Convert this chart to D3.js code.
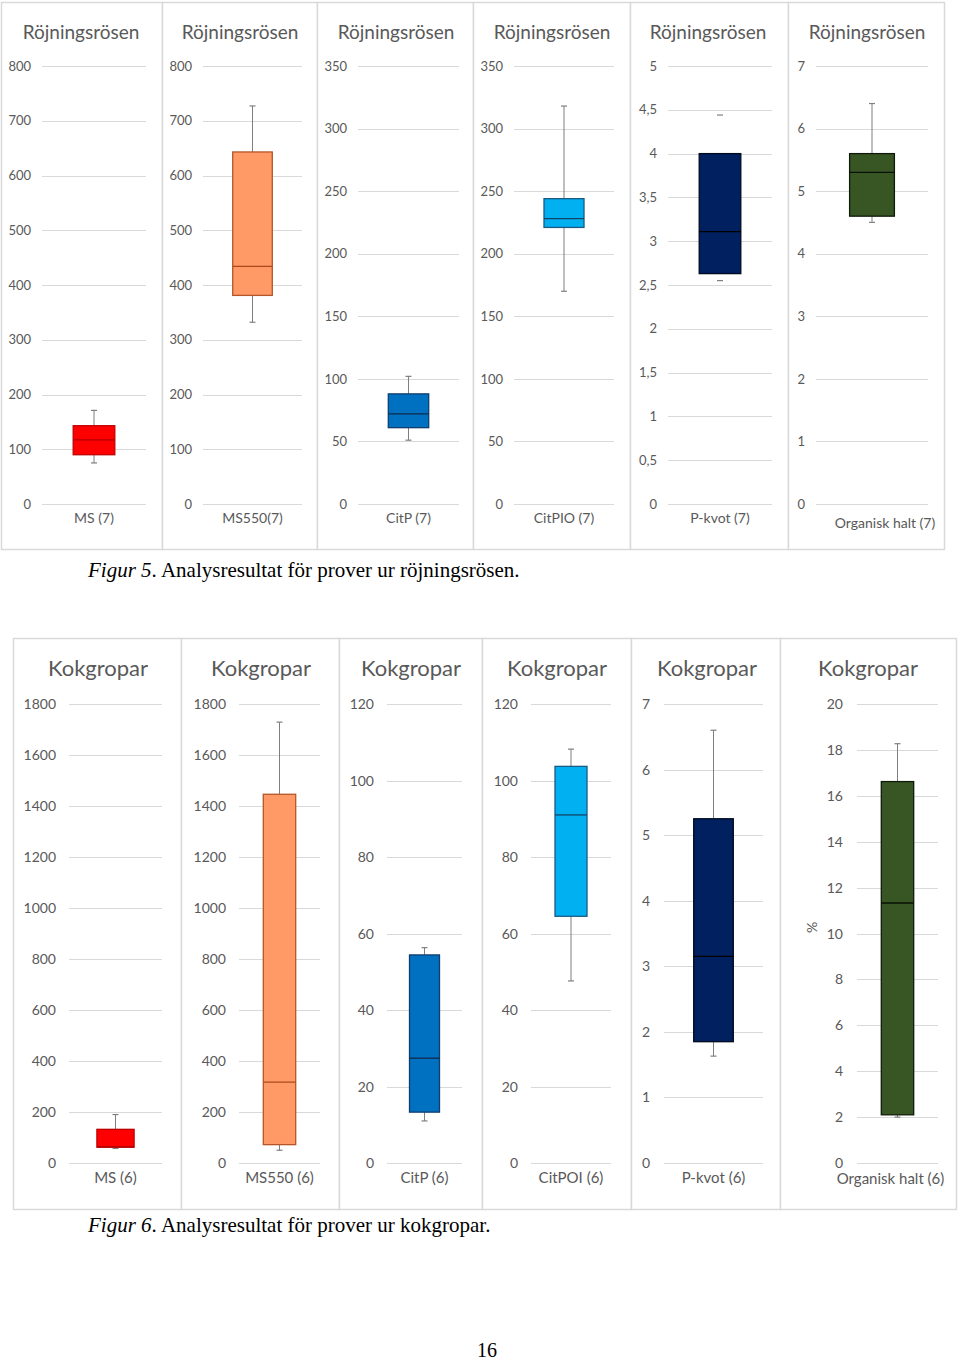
<!DOCTYPE html>
<html>
<head>
<meta charset="utf-8">
<script src="https://cdn.jsdelivr.net/npm/d3@7"></script>
<style>
  html, body { margin: 0; padding: 0; background: #fff; }
  svg { display: block; }
</style>
</head>
<body>
<svg id="chart" width="960" height="1362"></svg>
<script>
// ---------- DATA ----------
// Figur 5 – Röjningsrösen
const fig5Title = "Röjningsrösen";
const fig5Categories = ["MS (7)", "MS550(7)", "CitP (7)", "CitPIO (7)", "P-kvot (7)", "Organisk halt (7)"];
const fig5Min    = [75, 332, 51, 170, 2.55, 4.5];
const fig5Q1     = [90, 381, 61, 221, 2.63, 4.6];
const fig5Median = [117, 434, 72, 228, 3.11, 5.3];
const fig5Q3     = [143, 643, 88, 244, 4.0, 5.6];
const fig5Max    = [171, 727, 102, 318, 4.44, 6.4];
const fig5AxisMax  = [800, 800, 350, 350, 5, 7];
const fig5TickStep = [100, 100, 50, 50, 0.5, 1];
const fig5Caption = ["Figur 5", ". Analysresultat för prover ur röjningsrösen."];

// Figur 6 – Kokgropar
const fig6Title = "Kokgropar";
const fig6Categories = ["MS (6)", "MS550 (6)", "CitP (6)", "CitPOI (6)", "P-kvot (6)", "Organisk halt (6)"];
const fig6Min    = [57, 50, 11, 47.6, 1.63, 2.0];
const fig6Q1     = [62, 72, 13.3, 64.5, 1.85, 2.1];
const fig6Median = [63, 317, 27.4, 91, 3.15, 11.33];
const fig6Q3     = [132, 1446, 54.4, 103.7, 5.25, 16.62];
const fig6Max    = [190, 1729, 56.3, 108.2, 6.6, 18.27];
const fig6AxisMax  = [1800, 1800, 120, 120, 7, 20];
const fig6TickStep = [200, 200, 20, 20, 1, 2];
const fig6YTitle = ["", "", "", "", "", "%"];
const fig6Caption = ["Figur 6", ". Analysresultat för prover ur kokgropar."];

const pageNumber = "16";

// ---------- STYLE / LAYOUT ----------
const fills   = ["#ff0000", "#ff9966", "#0070c0", "#00b0f0", "#002060", "#375623"];
const strokes = ["#c00000", "#b5562a", "#123e6e", "#1a5b86", "#000a1e", "#101a0a"];
const medians = ["#b00000", "#a84a1c", "#0e2a4d", "#124468", "#000000", "#0a1006"];
const textCol = "#595959";
const gridCol = "#d9d9d9";
const borderCol = "#d9d9d9";
const whiskerCol = "#7f7f7f";
const sans = "Lato, 'Open Sans', sans-serif";
const serif = "'Liberation Serif', 'Times New Roman', serif";

const fig5Layout = {
  top: 66, bottom: 504, boxTop: 2, boxBottom: 549,
  panels: [[1,162],[162,317],[317,473],[473,630],[630,788],[788,944]],
  grid: [[42,146],[203,302],[358,459],[514,614],[668,772],[816,928]],
  labelRight: [31,192,347,503,657,805],
  titleX: [81,240,396,552,708,867],
  titleY: 39, titleSize: 19,
  tickSize: 13, xLabelY: 523, xLabelSize: 14,
  xLabelDx: [0,0,0,0,0,13], xLabelDy: [0,0,0,0,0,5],
  whiskerLine: [true,true,true,true,false,true],
  captionY: 577, captionX: 88
};
const fig6Layout = {
  top: 704, bottom: 1163, boxTop: 638, boxBottom: 1209,
  panels: [[13,181],[181,339],[339,482],[482,631],[631,780],[780,956]],
  grid: [[69,162],[239,320],[387,462],[531,611],[664,763],[857,938]],
  labelRight: [56,226,374,518,650,843],
  titleX: [98,261,411,557,707,868],
  titleY: 676, titleSize: 22,
  tickSize: 14, xLabelY: 1183, xLabelSize: 15,
  xLabelDx: [0,0,0,0,0,-7], xLabelDy: [0,0,0,0,0,1],
  whiskerLine: [true,true,true,true,true,true],
  yTitleX: 812,
  captionY: 1232, captionX: 88
};

const svg = d3.select("#chart");
svg.append("rect").attr("width", 960).attr("height", 1362).attr("fill", "#fff");

const fmt = v => {
  const s = d3.format("~g")(v);
  return s.replace(".", ",");
};

function drawFigure(L, title, cats, mins, q1s, meds, q3s, maxs, axisMax, steps, yTitles) {
  const g = svg.append("g");
  cats.forEach((cat, i) => {
    const p = g.append("g");
    const [px0, px1] = L.panels[i];
    // panel frame
    p.append("rect")
      .attr("x", px0 + 0.5).attr("y", L.boxTop + 0.5)
      .attr("width", px1 - px0).attr("height", L.boxBottom - L.boxTop)
      .attr("fill", "#fff").attr("stroke", borderCol).attr("stroke-width", 1.5);

    const y = d3.scaleLinear().domain([0, axisMax[i]]).range([L.bottom, L.top]);
    const x = d3.scaleBand().domain([cat]).range(L.grid[i]).paddingInner(0).paddingOuter(0.75);
    const ticks = d3.range(0, axisMax[i] + steps[i] / 2, steps[i]);

    // gridlines
    p.selectAll("line.grid").data(ticks).join("line")
      .attr("x1", L.grid[i][0]).attr("x2", L.grid[i][1])
      .attr("y1", d => Math.round(y(d)) + 0.5).attr("y2", d => Math.round(y(d)) + 0.5)
      .attr("stroke", gridCol).attr("stroke-width", 1);

    // tick labels
    p.selectAll("text.tick").data(ticks).join("text")
      .attr("x", L.labelRight[i]).attr("y", d => y(d))
      .attr("dy", "0.36em").attr("text-anchor", "end")
      .attr("font-family", sans).attr("font-size", L.tickSize)
      .attr("fill", textCol).text(d => fmt(d));

    // title
    p.append("text").attr("x", L.titleX[i]).attr("y", L.titleY)
      .attr("text-anchor", "middle").attr("font-family", sans)
      .attr("font-size", L.titleSize).attr("fill", textCol).text(title);

    // category label
    const cx = x(cat) + x.bandwidth() / 2;
    p.append("text").attr("x", cx + L.xLabelDx[i]).attr("y", L.xLabelY + L.xLabelDy[i])
      .attr("text-anchor", "middle").attr("font-family", sans)
      .attr("font-size", L.xLabelSize).attr("fill", textCol).text(cat);

    // y title
    if (yTitles && yTitles[i]) {
      p.append("text")
        .attr("transform", `translate(${L.yTitleX},${(L.top + L.bottom) / 2 - 6}) rotate(-90)`)
        .attr("text-anchor", "middle").attr("dy", "0.35em")
        .attr("font-family", sans).attr("font-size", 14).attr("fill", textCol)
        .text(yTitles[i]);
    }

    // box plot
    const bx = x(cat), bw = x.bandwidth();
    const capW = 3;
    if (L.whiskerLine[i]) {
      p.append("line").attr("x1", cx).attr("x2", cx)
        .attr("y1", y(maxs[i])).attr("y2", y(q3s[i]))
        .attr("stroke", whiskerCol).attr("stroke-width", 1);
      p.append("line").attr("x1", cx).attr("x2", cx)
        .attr("y1", y(q1s[i])).attr("y2", y(mins[i]))
        .attr("stroke", whiskerCol).attr("stroke-width", 1);
    }
    [maxs[i], mins[i]].forEach(v => {
      p.append("line").attr("x1", cx - capW).attr("x2", cx + capW)
        .attr("y1", y(v)).attr("y2", y(v))
        .attr("stroke", whiskerCol).attr("stroke-width", 1.2);
    });
    p.append("rect").attr("x", bx).attr("y", y(q3s[i]))
      .attr("width", bw).attr("height", y(q1s[i]) - y(q3s[i]))
      .attr("fill", fills[i]).attr("stroke", strokes[i]).attr("stroke-width", 1.3);
    p.append("line").attr("x1", bx).attr("x2", bx + bw)
      .attr("y1", y(meds[i])).attr("y2", y(meds[i]))
      .attr("stroke", medians[i]).attr("stroke-width", 1.3);
  });
}

drawFigure(fig5Layout, fig5Title, fig5Categories, fig5Min, fig5Q1, fig5Median, fig5Q3, fig5Max, fig5AxisMax, fig5TickStep, null);
drawFigure(fig6Layout, fig6Title, fig6Categories, fig6Min, fig6Q1, fig6Median, fig6Q3, fig6Max, fig6AxisMax, fig6TickStep, fig6YTitle);

function caption(L, parts) {
  const t = svg.append("text").attr("x", L.captionX).attr("y", L.captionY)
    .attr("font-family", serif).attr("font-size", 21).attr("fill", "#000");
  t.append("tspan").attr("font-style", "italic").text(parts[0]);
  t.append("tspan").text(parts[1]);
}
caption(fig5Layout, fig5Caption);
caption(fig6Layout, fig6Caption);

svg.append("text").attr("x", 487).attr("y", 1357).attr("text-anchor", "middle")
  .attr("font-family", serif).attr("font-size", 20).attr("fill", "#000").text(pageNumber);
</script>
</body>
</html>
